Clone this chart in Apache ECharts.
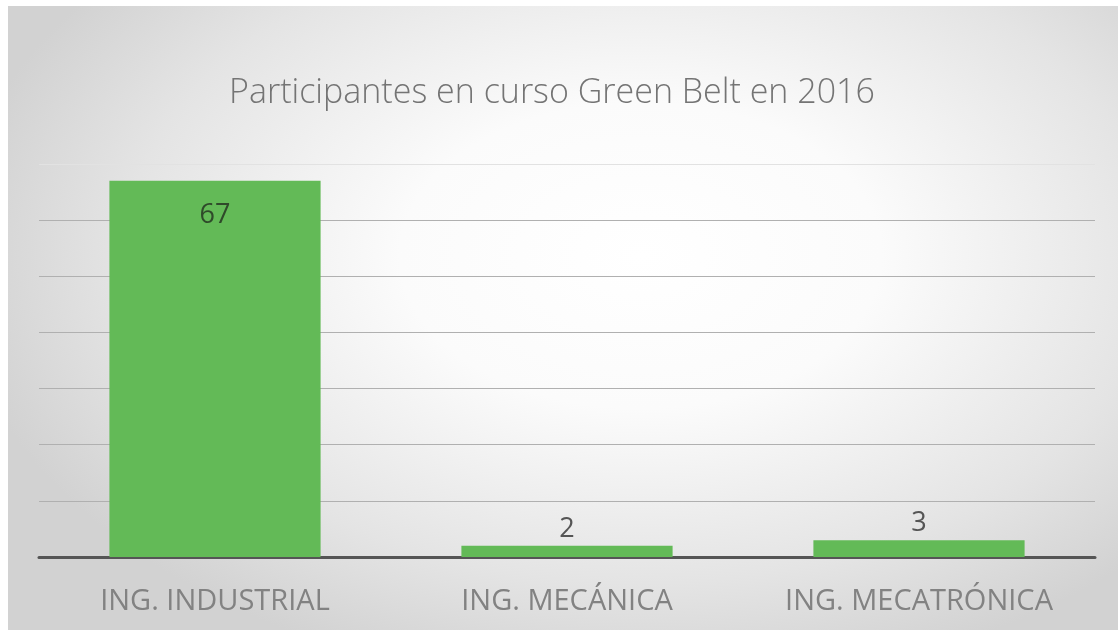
<!DOCTYPE html>
<html>
<head>
<meta charset="utf-8">
<script src="https://cdn.jsdelivr.net/npm/echarts@6/dist/echarts.min.js"></script>
<style>
  html, body { margin: 0; padding: 0; background: #ffffff; }
  #frame {
    position: absolute; left: 8px; top: 6px; width: 1110px; height: 624px;
    background: radial-gradient(ellipse 62% 70% at 57% 40%, #ffffff 0%, #fbfbfb 35%, #e4e4e4 75%, #d2d2d2 100%);
  }
  #chart { position: absolute; left: 0; top: 0; width: 1118px; height: 630px; }
</style>
</head>
<body>
<div id="frame"></div>
<div id="chart"></div>
<script>
// Participants per engineering programme
const chartTitle = 'Participantes en curso Green Belt en 2016';
const categories = ['ING. INDUSTRIAL', 'ING. MECÁNICA', 'ING. MECATRÓNICA'];
const participants = [67, 2, 3];

const chart = echarts.init(document.getElementById('chart'), null, { renderer: 'canvas' });

chart.setOption({
  backgroundColor: 'transparent',
  animation: false,
  title: {
    text: chartTitle,
    left: 224,
    top: 71,
    textStyle: {
      fontFamily: 'Open Sans',
      fontWeight: 300,
      fontSize: 34,
      color: '#747474'
    }
  },
  grid: { left: 39, right: 23, top: 164, bottom: 73 },
  xAxis: {
    type: 'category',
    data: categories,
    axisLine: { show: true, lineStyle: { color: '#555555', width: 3 } },
    axisTick: { show: false },
    axisLabel: {
      margin: 30,
      fontFamily: 'Open Sans',
      fontSize: 29,
      color: '#828282'
    }
  },
  yAxis: {
    type: 'value',
    min: 0,
    max: 70,
    interval: 10,
    axisLabel: { show: false },
    axisLine: { show: false },
    axisTick: { show: false },
    splitLine: {
      show: true,
      lineStyle: {
        color: ['#b0b0b0', '#b0b0b0', '#b0b0b0', '#b0b0b0', '#b0b0b0', '#b0b0b0', '#b0b0b0', '#e2e2e2'],
        width: 1
      }
    }
  },
  series: [{
    type: 'bar',
    data: participants.map((v, i) => ({
      value: v,
      label: i === 0
        ? { position: 'insideTop', distance: 21, color: '#2f4a2a' }
        : { position: 'top', distance: 3, color: '#555555' }
    })),
    barWidth: '60%',
    itemStyle: { color: '#63ba57' },
    label: {
      show: true,
      fontFamily: 'Open Sans',
      fontSize: 27
    }
  }]
});
</script>
</body>
</html>
